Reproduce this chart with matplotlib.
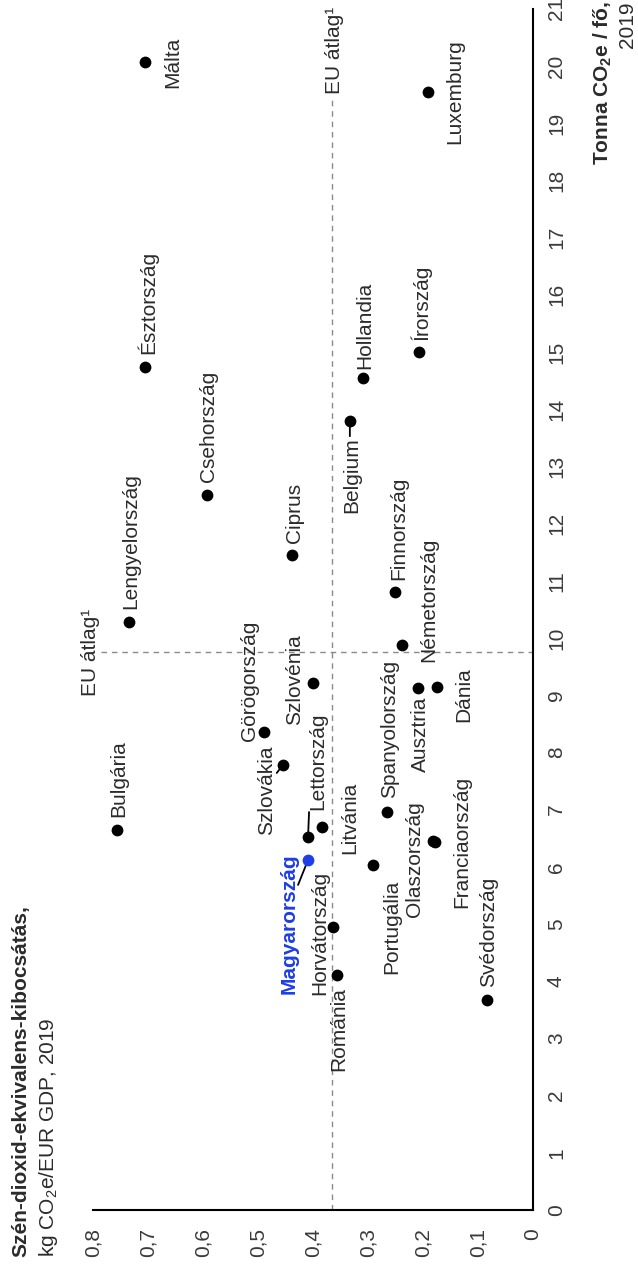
import matplotlib
matplotlib.use('Agg')
import matplotlib.pyplot as plt

plt.rcParams['font.family'] = ['Liberation Sans', 'DejaVu Sans']
plt.rcParams['mathtext.fontset'] = 'custom'
plt.rcParams['mathtext.rm'] = 'Liberation Sans'
plt.rcParams['mathtext.bf'] = 'Liberation Sans:bold'
plt.rcParams['mathtext.it'] = 'Liberation Sans:italic'

# ---------------- data ----------------
countries = ['Málta', 'Észtország', 'Luxemburg', 'Hollandia', 'Írország', 'Belgium',
             'Csehország', 'Ciprus', 'Lengyelország', 'Finnország', 'Németország',
             'Szlovénia', 'Görögország', 'Szlovákia', 'Bulgária', 'Lettország',
             'Litvánia', 'Magyarország', 'Horvátország', 'Románia', 'Portugália',
             'Olaszország', 'Franciaország', 'Spanyolország', 'Ausztria', 'Dánia',
             'Svédország']
# tonnes CO2e per capita, 2019
per_capita = [20.07, 14.74, 19.55, 14.55, 15.0, 13.79,
              12.5, 11.45, 10.28, 10.8, 9.88,
              9.21, 8.36, 7.78, 6.64, 6.52,
              6.70, 6.12, 4.95, 4.11, 6.03,
              6.45, 6.43, 6.96, 9.13, 9.15,
              3.67]
# kg CO2e per EUR GDP, 2019
intensity = [0.705, 0.705, 0.191, 0.309, 0.207, 0.333,
             0.593, 0.438, 0.735, 0.251, 0.238,
             0.400, 0.490, 0.455, 0.756, 0.409,
             0.384, 0.409, 0.364, 0.357, 0.291,
             0.182, 0.178, 0.265, 0.209, 0.175,
             0.084]
eu_per_capita = 9.75
eu_intensity = 0.365
highlight = 'Magyarország'

per_capita_ticks = list(range(0, 22))
intensity_ticks = [0.8, 0.7, 0.6, 0.5, 0.4, 0.3, 0.2, 0.1, 0.0]
intensity_tick_labels = ['0,8', '0,7', '0,6', '0,5', '0,4', '0,3', '0,2', '0,1', '0']

# ---------------- label placement (original-orientation pixel offsets) ----------------
# (ha, dx, dy, connector_end or None)
label_pos = {
    'Málta': ('center', 0, -26, None),
    'Észtország': ('left', 13, 0, None),
    'Luxemburg': ('center', 0, -25, None),
    'Hollandia': ('left', 9, 0, None),
    'Írország': ('left', 12, 0, None),
    'Belgium': ('right', -16, 0, (-15, 0)),
    'Csehország': ('left', 13, 0, None),
    'Ciprus': ('left', 12, 0, None),
    'Lengyelország': ('left', 13, 0, None),
    'Finnország': ('left', 12, -2, None),
    'Németország': ('left', -17, -25, None),
    'Szlovénia': ('center', 4, 20, None),
    'Görögország': ('left', -9, 16, None),
    'Szlovákia': ('center', -25, 18, (-8, 6)),
    'Bulgária': ('left', 13, 0, None),
    'Lettország': ('left', 27, -8, (25, -1)),
    'Litvánia': ('center', 9, -26, None),
    'Magyarország': ('center', -64, 21, (-25, 10)),
    'Horvátország': ('center', -6, 15, None),
    'Románia': ('right', -12, 0, None),
    'Portugália': ('right', -15, -17, None),
    'Olaszország': ('center', -18, 20, None),
    'Franciaország': ('center', 0, -25, None),
    'Spanyolország': ('left', 14, 0, None),
    'Ausztria': ('right', -9, 0, None),
    'Dánia': ('center', -8, -25, None),
    'Svédország': ('left', 13, 0, None),
}

W, H = 638, 1272
fig = plt.figure(figsize=(W / 100, H / 100), dpi=100)

# axes: horizontal = intensity (inverted), vertical = per capita
ax_left, ax_right = 93, 533
ax_bottom_px, ax_top_px = 1210, 8.8
ax = fig.add_axes([ax_left / W, 1 - ax_bottom_px / H,
                   (ax_right - ax_left) / W, (ax_bottom_px - ax_top_px) / H])
ax.set_xlim(0.8, 0)
ax.set_ylim(0, 21)

text_col = '#2b2b2b'
tick_col = '#3a3a3a'
blue = '#1d3ee8'
fs = 15

for s in ['left', 'top']:
    ax.spines[s].set_visible(False)
for s in ['right', 'bottom']:
    ax.spines[s].set_linewidth(1.5)
    ax.spines[s].set_color('black')

ax.yaxis.tick_right()
ax.set_yticks(per_capita_ticks)
ax.set_yticklabels([str(t) for t in per_capita_ticks])
ax.set_xticks(intensity_ticks)
ax.set_xticklabels(intensity_tick_labels)
ax.tick_params(axis='y', length=0, pad=10, labelsize=fs, labelcolor=tick_col)
ax.tick_params(axis='x', length=0, pad=13, labelsize=fs, labelcolor=tick_col)
for lbl in ax.get_yticklabels():
    lbl.set_rotation(90)
    lbl.set_ha('left')
    lbl.set_va('center')
for lbl in ax.get_xticklabels():
    lbl.set_rotation(90)
    lbl.set_ha('center')
    lbl.set_va('top')

# EU average reference lines
dash = dict(color='#8a8a8a', lw=1.0, linestyle=(0, (4, 3.5)))
ax.axvline(eu_intensity, ymin=0, ymax=19.45 / 21, **dash)
ax.axhline(eu_per_capita, xmin=(0.8 - 0.785) / 0.8, xmax=1, **dash)

def place(x, y, text, ha, dx, dy, **kw):
    # dx, dy given in original (unrotated) pixel orientation
    ox, oy = -dy * 0.72, dx * 0.72
    return ax.annotate(text, xy=(x, y), xytext=(ox, oy), textcoords='offset points',
                       rotation=90, rotation_mode='anchor', ha=ha, va='center_baseline',
                       fontsize=fs, **kw)

place(0.785, eu_per_capita, 'EU átlag¹', 'center', 0, 13, color=text_col)
place(eu_intensity, 19.45, 'EU átlag¹', 'left', 3, 0, color=text_col)

# points
for name, pc, it in zip(countries, per_capita, intensity):
    col = blue if name == highlight else 'black'
    ax.scatter([it], [pc], s=72, color=col, zorder=4, linewidths=0)
    ha, dx, dy, conn = label_pos[name]
    if conn is not None:
        ax.annotate('', xy=(it, pc), xytext=(-conn[1] * 0.72, conn[0] * 0.72),
                    textcoords='offset points',
                    arrowprops=dict(arrowstyle='-', color='black', lw=1.3,
                                    shrinkA=0, shrinkB=0), zorder=3)
    if name == highlight:
        place(it, pc, name, ha, dx, dy, color=blue, fontweight='bold')
    else:
        place(it, pc, name, ha, dx, dy, color=text_col)

# titles
def fig_text(xpx, ypx, s, **kw):
    fig.text(xpx / W, 1 - ypx / H, s, rotation=90, rotation_mode='anchor',
             va='center', fontsize=fs, color=text_col, **kw)

fig_text(21, 1257, 'Szén-dioxid-ekvivalens-kibocsátás,', ha='left', fontweight='bold')
fig_text(49, 1257, r'kg CO$_2$e/EUR GDP, 2019', ha='left')
fig_text(603, 1, r'Tonna CO$_\mathbf{2}$e / fő,', ha='right', fontweight='bold')
fig_text(627, 1, '2019', ha='right')

fig.savefig('out.png', dpi=100)
